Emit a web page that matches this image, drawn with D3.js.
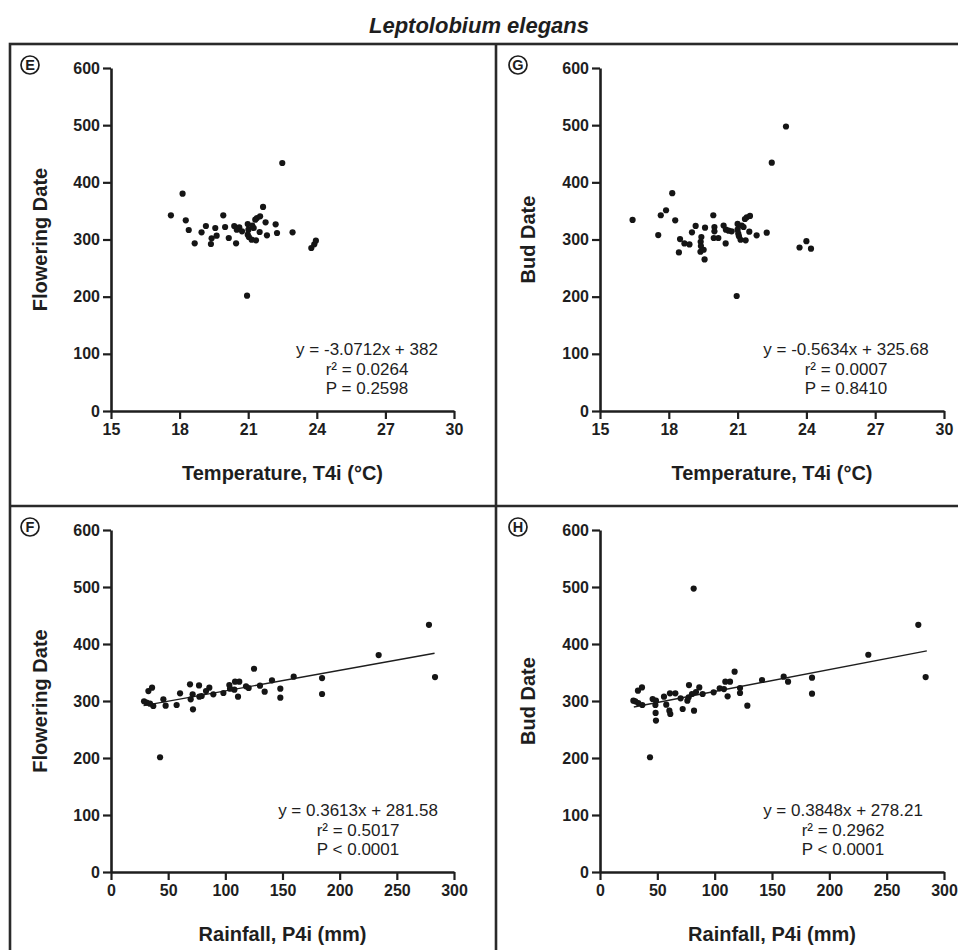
<!DOCTYPE html>
<html>
<head>
<meta charset="utf-8">
<script src="https://cdn.jsdelivr.net/npm/d3@7"></script>
<style>
  html, body { margin: 0; padding: 0; background: #fff; }
  svg { display: block; }
  text { font-family: "Liberation Sans", Arial, Helvetica, sans-serif; fill: #1e1e1e; }
</style>
</head>
<body>
<svg id="chart" width="958" height="950"></svg>
<script>
// ---------------- DATA ----------------
const title = "Leptolobium elegans";

const yTicks = [0, 100, 200, 300, 400, 500, 600];
const tempTicks = [15, 18, 21, 24, 27, 30];
const rainTicks = [0, 50, 100, 150, 200, 250, 300];

// Panel E: Flowering date vs temperature T4i
const tempE_x = [22.49, 18.13, 17.62, 18.27, 18.40, 18.66, 18.96, 19.15, 19.37, 19.40, 19.62, 19.56, 19.91, 19.99,
  20.15, 20.39, 20.47, 20.50, 20.61, 20.73, 20.95, 20.98, 21.01, 20.98, 21.03, 21.15, 21.18, 21.24, 21.31,
  21.38, 21.52, 21.34, 21.50, 21.65, 21.76, 21.82, 22.20, 22.26, 22.94, 23.76, 23.89, 23.96];
const tempE_y = [433.8, 380.2, 342.3, 333.5, 316.6, 293.3, 312.5, 323.6, 292.1, 302.0, 306.7, 320.1, 342.3, 321.9,
  302.6, 323.6, 293.3, 317.2, 321.3, 314.3, 201.7, 327.1, 317.2, 308.5, 304.4, 299.7, 324.2, 320.1, 334.7,
  337.6, 340.5, 298.5, 313.1, 356.9, 330.0, 307.3, 326.5, 311.4, 312.5, 285.1, 291.5, 298.0];

// Panel G: Bud date vs temperature T4i
const tempG_x = [23.11, 22.49, 18.15, 16.42, 17.65, 17.88, 18.28, 17.54, 18.49, 18.68, 18.44, 18.90, 19.01, 19.17,
  19.42, 19.39, 19.40, 19.38, 19.52, 19.56, 19.58, 19.94, 19.99, 19.99, 19.96, 20.16, 20.39, 20.48, 20.49,
  20.61, 20.74, 20.96, 21.00, 21.00, 21.03, 21.06, 21.13, 21.18, 21.26, 21.32, 21.40, 21.54, 21.35, 21.51,
  21.83, 22.27, 23.70, 24.00, 24.20];
const tempG_y = [497.7, 434.4, 381.1, 334.2, 342.4, 351.2, 333.6, 307.8, 300.8, 293.2, 277.4, 291.4, 312.5, 323.7,
  304.3, 296.1, 288.5, 278.6, 282.1, 265.1, 320.7, 342.4, 321.9, 314.3, 302.6, 302.6, 324.3, 293.2, 317.2,
  315.5, 314.3, 201.2, 327.2, 317.2, 310.2, 305.5, 299.6, 324.3, 321.9, 335.9, 338.9, 341.2, 298.5, 313.7,
  307.3, 312.0, 286.0, 297.0, 284.0];

// Panel F: Flowering date vs rainfall P4i
const rainF_x = [278.1, 283.4, 234.1, 184.6, 184.6, 159.8, 148.1, 148.1, 140.8, 134.4, 130.3, 125.1, 120.4, 118.1,
  111.1, 112.2, 108.5, 107.9, 103.5, 104.1, 98.3, 89.5, 86.0, 83.1, 79.3, 77.0, 77.3, 71.4, 69.1, 69.7,
  71.7, 60.4, 57.4, 47.8, 45.8, 42.9, 35.9, 32.7, 37.0, 34.1, 31.2, 28.9];
const rainF_y = [433.7, 342.0, 380.6, 340.3, 312.3, 342.6, 321.6, 305.8, 336.2, 316.3, 326.9, 356.6, 322.8, 325.7,
  307.6, 333.9, 333.9, 319.8, 328.0, 321.6, 314.0, 311.7, 323.4, 317.5, 308.8, 327.4, 307.6, 311.7, 329.2, 302.9,
  285.4, 313.4, 293.0, 291.8, 302.9, 201.3, 323.4, 317.5, 291.2, 295.3, 297.1, 299.4];

// Panel H: Bud date vs rainfall P4i
const rainH_x = [81.7, 277.6, 234.0, 184.9, 184.9, 164.0, 160.2, 141.3, 128.5, 122.1, 122.1, 117.4, 113.4, 109.3,
  111.3, 108.1, 104.4, 99.1, 89.5, 86.6, 83.7, 82.0, 77.6, 80.2, 77.3, 76.2, 72.1, 70.3, 65.7, 61.0,
  61.3, 60.5, 57.8, 55.8, 48.8, 48.5, 48.3, 48.8, 45.9, 43.6, 36.6, 33.1, 36.9, 33.4, 30.8, 29.1, 284.0];
const rainH_y = [497.3, 433.7, 381.1, 340.9, 312.8, 333.9, 342.6, 336.8, 291.8, 322.8, 314.0, 351.4, 333.9, 333.9,
  308.2, 321.0, 322.2, 315.2, 312.3, 323.9, 315.8, 283.1, 328.0, 312.3, 306.4, 300.6, 286.0, 304.7, 313.4, 313.4,
  277.2, 283.1, 293.6, 307.6, 265.6, 279.0, 293.0, 300.6, 303.5, 201.3, 323.9, 318.1, 293.0, 296.5, 299.4, 300.6, 342.0];

// Regression fits shown on the rainfall panels: [slope, intercept, xStart, xEnd]
const fitF = [0.3613, 281.58, 28.5, 283];
const fitH = [0.3848, 278.21, 29.5, 285];

const statsE = ["y = -3.0712x + 382", "r\u00B2 = 0.0264", "P = 0.2598"];
const statsG = ["y = -0.5634x + 325.68", "r\u00B2 = 0.0007", "P = 0.8410"];
const statsF = ["y = 0.3613x + 281.58", "r\u00B2 = 0.5017", "P < 0.0001"];
const statsH = ["y = 0.3848x + 278.21", "r\u00B2 = 0.2962", "P < 0.0001"];

// ---------------- DRAWING ----------------
const svg = d3.select("#chart");
const ink = "#1e1e1e";

svg.append("rect").attr("width", 958).attr("height", 950).attr("fill", "#fff");

svg.append("text").attr("x", 479).attr("y", 33).attr("text-anchor", "middle")
  .style("font-size", "22px").style("font-weight", "bold").style("font-style", "italic")
  .text(title);

// frame
const frameL = 10, frameT = 44, divX = 496, divY = 506;
const fg = svg.append("g").attr("stroke", "#2a2a2a").attr("stroke-width", 2.6).attr("fill", "none");
fg.append("rect").attr("x", frameL).attr("y", frameT).attr("width", 1000).attr("height", 1000);
fg.append("line").attr("x1", divX).attr("x2", divX).attr("y1", frameT).attr("y2", 950);
fg.append("line").attr("x1", frameL).attr("x2", 958).attr("y1", divY).attr("y2", divY);

function panel(o) {
  const g = svg.append("g");
  const x = d3.scaleLinear().domain(o.xDomain).range([o.left, o.right]);
  const y = d3.scaleLinear().domain([0, 600]).range([o.bottom, o.top]);

  const ya = g.append("g").attr("transform", `translate(${o.left},0)`)
    .call(d3.axisLeft(y).tickValues(yTicks).tickSize(8).tickSizeOuter(0).tickPadding(3));
  const xa = g.append("g").attr("transform", `translate(0,${o.bottom})`)
    .call(d3.axisBottom(x).tickValues(o.xTicks).tickSize(8).tickSizeOuter(0).tickPadding(5));
  [ya, xa].forEach(a => {
    a.selectAll("path.domain").attr("stroke", ink).attr("stroke-width", 2.6);
    a.selectAll(".tick line").attr("stroke", ink).attr("stroke-width", 2.2);
    a.selectAll(".tick text").style("font-size", "16px").style("font-weight", "bold")
      .style("font-family", '"Liberation Sans", Arial, sans-serif').attr("fill", ink);
  });

  // axis titles
  g.append("text").attr("transform", `translate(${o.yTitleX},${(o.top + o.bottom) / 2}) rotate(-90)`)
    .attr("text-anchor", "middle").attr("dy", "0.35em")
    .style("font-size", "20px").style("font-weight", "bold").text(o.yTitle);
  g.append("text").attr("x", (o.left + o.right) / 2).attr("y", o.bottom + 69)
    .attr("text-anchor", "middle")
    .style("font-size", "20px").style("font-weight", "bold").text(o.xTitle);

  // panel letter
  g.append("circle").attr("cx", o.labelX).attr("cy", o.top - 3).attr("r", 9)
    .attr("fill", "none").attr("stroke", ink).attr("stroke-width", 1.7);
  g.append("text").attr("x", o.labelX).attr("y", o.top - 3).attr("dy", "0.36em")
    .attr("text-anchor", "middle").style("font-size", "14.5px").style("font-weight", "bold").text(o.label);

  // fit line
  if (o.fit) {
    const [m, b, x0, x1] = o.fit;
    g.append("line")
      .attr("x1", x(x0)).attr("y1", y(m * x0 + b))
      .attr("x2", x(x1)).attr("y2", y(m * x1 + b))
      .attr("stroke", ink).attr("stroke-width", 1.4);
  }

  // points
  g.append("g").selectAll("circle").data(o.xs.map((v, i) => [v, o.ys[i]])).join("circle")
    .attr("cx", d => x(d[0])).attr("cy", d => y(d[1])).attr("r", 3.1).attr("fill", "#151515");

  // statistics
  g.append("g").selectAll("text").data(o.stats).join("text")
    .attr("x", o.statX).attr("y", (d, i) => o.bottom - 56 + i * 19.5)
    .attr("text-anchor", "middle").style("font-size", "17px").text(d => d);
}

panel({ left: 111, right: 454, top: 68, bottom: 411, xDomain: [15, 30], xTicks: tempTicks,
  xs: tempE_x, ys: tempE_y, yTitle: "Flowering Date", xTitle: "Temperature, T4i (\u00B0C)",
  yTitleX: 40, label: "E", labelX: 30, stats: statsE, statX: 367 });
panel({ left: 600, right: 944, top: 68, bottom: 411, xDomain: [15, 30], xTicks: tempTicks,
  xs: tempG_x, ys: tempG_y, yTitle: "Bud Date", xTitle: "Temperature, T4i (\u00B0C)",
  yTitleX: 528, label: "G", labelX: 518, stats: statsG, statX: 846 });
panel({ left: 111, right: 454, top: 530, bottom: 872, xDomain: [0, 300], xTicks: rainTicks,
  xs: rainF_x, ys: rainF_y, yTitle: "Flowering Date", xTitle: "Rainfall, P4i (mm)",
  yTitleX: 40, label: "F", labelX: 30, stats: statsF, statX: 358, fit: fitF });
panel({ left: 600, right: 944, top: 530, bottom: 872, xDomain: [0, 300], xTicks: rainTicks,
  xs: rainH_x, ys: rainH_y, yTitle: "Bud Date", xTitle: "Rainfall, P4i (mm)",
  yTitleX: 528, label: "H", labelX: 518, stats: statsH, statX: 843, fit: fitH });
</script>
</body>
</html>
